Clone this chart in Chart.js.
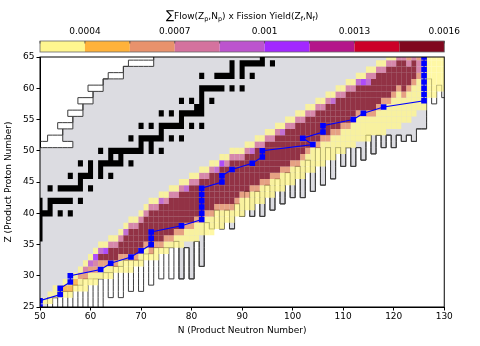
<!DOCTYPE html>
<html>
<head>
<meta charset="utf-8">
<script src="https://cdn.jsdelivr.net/npm/chart.js@4.4.0/dist/chart.umd.min.js"></script>
<style>
  html, body { margin: 0; padding: 0; background: #fff; }
</style>
</head>
<body>
<canvas id="nucChart" width="480" height="346"></canvas>
<script>
// axis ranges
const nMin = 50, nMax = 130, zMin = 25, zMax = 65

// colour bar
const cbBounds = [0.00025, 0.0004, 0.00055, 0.0007, 0.00085, 0.001, 0.00115, 0.0013, 0.00145, 0.0016]
const cbTicks = [0.0004, 0.0007, 0.001, 0.0013, 0.0016]
const cbColors = ['#fff68f', '#ffb23a', '#e8926c', '#d4729e', '#bc54ce', '#a228ff', '#b4168a', '#cc0028', '#80081e']

// r-process path (N, Z)
const pathN = [50, 50, 54, 54, 56, 56, 62, 64, 68, 70, 72, 72, 72, 78, 82, 82, 82, 82, 82, 82, 86, 86, 88, 92, 94, 94, 104, 102, 106, 106, 112, 114, 118, 126, 126, 126, 126, 126, 126, 126, 126, 126]
const pathZ = [25, 26, 27, 28, 29, 30, 31, 32, 33, 34, 35, 36, 37, 38, 39, 40, 41, 42, 43, 44, 45, 46, 47, 48, 49, 50, 51, 52, 53, 54, 55, 56, 57, 58, 59, 60, 61, 62, 63, 64, 65, 66]

// stable nuclei [N, Z]
const stableNuclei = [
  [50, 36], [50, 37], [50, 38], [50, 39], [50, 40], [51, 40], [52, 40], [54, 40], [56, 40],
  [50, 41], [52, 41],
  [50, 42], [52, 42], [53, 42], [54, 42], [55, 42], [56, 42], [58, 42],
  [52, 44], [54, 44], [55, 44], [56, 44], [57, 44], [58, 44], [60, 44],
  [58, 45],
  [56, 46], [58, 46], [59, 46], [60, 46], [62, 46], [64, 46],
  [60, 47], [62, 47],
  [58, 48], [60, 48], [62, 48], [63, 48], [64, 48], [65, 48], [66, 48], [68, 48],
  [64, 49], [66, 49],
  [62, 50], [64, 50], [65, 50], [66, 50], [67, 50], [68, 50], [69, 50], [70, 50], [72, 50], [74, 50],
  [70, 51], [72, 51],
  [68, 52], [70, 52], [71, 52], [72, 52], [73, 52], [74, 52], [76, 52], [78, 52],
  [74, 53],
  [70, 54], [72, 54], [74, 54], [75, 54], [76, 54], [77, 54], [78, 54], [80, 54], [82, 54],
  [78, 55],
  [74, 56], [76, 56], [78, 56], [79, 56], [80, 56], [81, 56], [82, 56],
  [81, 57], [82, 57],
  [78, 58], [80, 58], [82, 58], [84, 58],
  [82, 59],
  [82, 60], [83, 60], [84, 60], [85, 60], [86, 60], [88, 60], [90, 60],
  [82, 62], [85, 62], [86, 62], [87, 62], [88, 62], [90, 62], [92, 62],
  [88, 63], [90, 63],
  [88, 64], [90, 64], [91, 64], [92, 64], [93, 64], [94, 64], [96, 64],
  [94, 65]
]

// known-nuclide region: rows Z = 25..65 give N limits, columns N = 50..130 give lowest Z
const grayRowLo = [40, 40, 40, 40, 40, 40, 40, 40, 40, 40, 40, 40, 40, 40, 40, 40, 40, 40, 40, 40, 40, 40, 40, 40, 40, 40,
  57, 55, 55, 57, 57, 59, 59, 61, 61, 63, 63, 67, 67, 73, 73]
const grayRowHi = [124, 124, 124, 124, 124, 124, 124, 124, 124, 124, 124, 124, 124, 124, 124, 124, 124, 124, 124, 124, 124, 124, 124, 124, 124, 124,
  124, 124, 124, 126, 126, 126, 126, 126, 126, 126, 126, 126, 126, 126, 126]
const grayColLo = [
  25, 25, 27, 27, 28, 28, 28, 29, 29, 30,
  30, 30, 30, 31, 31, 32, 32, 33, 33, 33,
  33, 34, 34, 35, 35, 35, 35, 36, 30, 35,
  30, 36, 32, 39, 38, 41, 38, 41, 38, 42,
  40, 44, 40, 44, 40, 45, 41, 46, 42, 47,
  43, 48, 43, 49, 44, 51, 45, 51, 46, 51,
  48, 51, 48, 51, 49, 53, 50, 53, 51, 53,
  51, 53, 52, 53, 52, 54, 53, 99, 99, 99,
  99]
// outlined region (left white where it goes beyond the grey)
const outRowLo = [40, 40, 40, 40, 40, 40, 40, 40, 40, 40, 40, 40, 40, 40, 40, 40, 40, 40, 40, 40, 40, 40, 40, 40, 40, 40,
  40, 52, 55, 54, 57, 56, 59, 58, 61, 60, 63, 64, 67, 68, 73]
const outRowHi = [124, 124, 124, 124, 124, 124, 124, 124, 124, 124, 124, 124, 124, 124, 124, 124, 124, 124, 124, 124, 124, 124, 124, 124, 124, 124,
  124, 124, 124, 130, 130, 130, 130, 130, 130, 130, 130, 130, 130, 130, 130]
const outColLo = [
  25, 25, 25, 27, 25, 28, 25, 29, 25, 30,
  25, 30, 25, 31, 27, 32, 27, 33, 28, 33,
  28, 34, 29, 35, 30, 35, 30, 36, 30, 35,
  30, 36, 32, 39, 38, 41, 38, 41, 38, 42,
  40, 44, 40, 44, 40, 45, 41, 46, 42, 47,
  43, 48, 43, 49, 44, 51, 45, 51, 46, 51,
  48, 51, 48, 51, 49, 53, 50, 53, 51, 53,
  51, 53, 52, 53, 52, 54, 53, 62, 58, 61,
  59]

// flow x fission yield, per column: [N, lowest Z, colour level per Z upward]
const heatCols = [
  [51, 26, '1'], [52, 26, '11'], [53, 27, '11'], [54, 27, '11'], [55, 27, '121'],
  [56, 27, '121'], [57, 28, '121'], [58, 28, '1131'], [59, 28, '11341'], [60, 29, '11351'],
  [61, 29, '113461'], [62, 30, '113951'], [63, 30, '113961'], [64, 30, '1139941'], [65, 31, '139941'],
  [66, 31, '1139941'], [67, 31, '11399951'], [68, 31, '113999941'], [69, 32, '13999941'], [70, 32, '113999941'],
  [71, 33, '113999941'], [72, 33, '1399999941'], [73, 33, '1139999941'], [74, 34, '1399999951'], [75, 34, '1139999941'],
  [76, 35, '1399999941'], [77, 35, '1139999941'], [78, 35, '11399999941'], [79, 36, '1139999951'], [80, 36, '11399999941'],
  [81, 36, '11139999941'], [82, 37, '11399999941'], [83, 37, '11139999941'], [84, 37, '111399999941'], [85, 38, '11139999951'],
  [86, 38, '111399999961'], [87, 39, '11399999941'], [88, 39, '113999999941'], [89, 40, '11399999941'], [90, 40, '11139999941'],
  [91, 41, '11399999941'], [92, 41, '11139999951'], [93, 42, '11399999941'], [94, 42, '11139999941'], [95, 43, '11399999941'],
  [96, 43, '11139999941'], [97, 44, '11399999941'], [98, 44, '11139999951'], [99, 45, '11399999941'], [100, 45, '11139999941'],
  [101, 46, '11399999941'], [102, 46, '11139999941'], [103, 47, '11139999941'], [104, 47, '11113999941'], [105, 48, '11139999941'],
  [106, 48, '11113999941'], [107, 49, '11139999941'], [108, 49, '11113999951'], [109, 50, '11139999941'], [110, 50, '11113999941'],
  [111, 51, '11139999941'], [112, 51, '11113999941'], [113, 52, '11113999951'], [114, 52, '11113999961'], [115, 52, '111139999541'],
  [116, 53, '11139999941'], [117, 53, '111139999941'], [118, 53, '111113999941'], [119, 54, '111139999941'], [120, 54, '111113999941'],
  [121, 54, '111111399994'], [122, 55, '11113999994'], [123, 55, '11111399943'], [124, 56, '1111139994'], [125, 57, '111113443'],
  [126, 57, '111111123'], [127, 59, '1111111'], [128, 59, '1111111'], [129, 60, '111111'], [130, 60, '111111']
]

const font = { family: 'DejaVu Sans', size: 9 }

function rowIdx(z) { return Math.min(Math.max(z, zMin), zMax) - zMin }
function colIdx(n) { return Math.min(Math.max(n, nMin), nMax) - nMin }
function inGray(n, z) {
  const r = rowIdx(z)
  return n >= grayRowLo[r] && n <= grayRowHi[r] && z >= grayColLo[colIdx(n)]
}
function inOutline(n, z) {
  const r = rowIdx(z)
  return n >= outRowLo[r] && n <= outRowHi[r] && z >= outColLo[colIdx(n)]
}

const nuclidePlugin = {
  id: 'nuclides',
  beforeDatasetsDraw(chart) {
    const { ctx, chartArea: a } = chart
    const x = chart.scales.x, y = chart.scales.y
    const px = v => x.getPixelForValue(v)
    const py = v => y.getPixelForValue(v)
    const cellRect = (n, z) => {
      const l = px(n - 0.5), r = px(n + 0.5), t = py(z + 0.5), b = py(z - 0.5)
      ctx.rect(l, t, r - l, b - t)
    }
    ctx.save()
    ctx.beginPath()
    ctx.rect(a.left, a.top, a.right - a.left, a.bottom - a.top)
    ctx.clip()

    // grey area
    ctx.beginPath()
    for (let n = nMin - 1; n <= nMax + 1; n++) {
      for (let z = zMin - 1; z <= zMax + 1; z++) {
        if (inGray(n, z)) cellRect(n, z)
      }
    }
    ctx.fillStyle = '#dcdce1'
    ctx.fill()

    // outlines of both regions
    ctx.beginPath()
    const edges = test => {
      for (let n = nMin - 2; n <= nMax + 2; n++) {
        for (let z = zMin - 2; z <= zMax + 2; z++) {
          if (!test(n, z)) continue
          if (!test(n - 1, z)) { ctx.moveTo(px(n - 0.5), py(z - 0.5)); ctx.lineTo(px(n - 0.5), py(z + 0.5)) }
          if (!test(n + 1, z)) { ctx.moveTo(px(n + 0.5), py(z - 0.5)); ctx.lineTo(px(n + 0.5), py(z + 0.5)) }
          if (!test(n, z - 1)) { ctx.moveTo(px(n - 0.5), py(z - 0.5)); ctx.lineTo(px(n + 0.5), py(z - 0.5)) }
          if (!test(n, z + 1)) { ctx.moveTo(px(n - 0.5), py(z + 0.5)); ctx.lineTo(px(n + 0.5), py(z + 0.5)) }
        }
      }
    }
    edges(inGray)
    edges(inOutline)
    ctx.strokeStyle = '#3c3c3c'
    ctx.lineWidth = 1
    ctx.stroke()

    // stable nuclei
    ctx.beginPath()
    stableNuclei.forEach(([n, z]) => cellRect(n, z))
    ctx.fillStyle = '#000'
    ctx.fill()

    // flow x fission yield cells
    ctx.globalAlpha = 0.8
    heatCols.forEach(([n, z0, lv]) => {
      for (let i = 0; i < lv.length; i++) {
        const k = +lv[i]
        if (!k) continue
        ctx.beginPath()
        cellRect(n, z0 + i)
        ctx.fillStyle = cbColors[k - 1]
        ctx.fill()
      }
    })
    ctx.restore()
  },
  afterDraw(chart) {
    const { ctx, chartArea: a } = chart
    const cb = chart.scales.cb
    // frame
    ctx.save()
    ctx.strokeStyle = '#000'
    ctx.lineWidth = 1
    ctx.strokeRect(a.left, a.top, a.right - a.left, a.bottom - a.top)

    // colour bar
    const top = 41, bot = 52
    for (let i = 0; i < cbColors.length; i++) {
      const l = cb.getPixelForValue(cbBounds[i]), r = cb.getPixelForValue(cbBounds[i + 1])
      ctx.fillStyle = cbColors[i]
      ctx.fillRect(l, top, r - l, bot - top)
    }
    ctx.strokeStyle = '#666'
    ctx.lineWidth = 0.8
    ctx.strokeRect(cb.getPixelForValue(cbBounds[0]), top, cb.getPixelForValue(cbBounds[9]) - cb.getPixelForValue(cbBounds[0]), bot - top)
    ctx.beginPath()
    cbBounds.forEach(v => { const p = cb.getPixelForValue(v); ctx.moveTo(p, top); ctx.lineTo(p, top + 2.5) })
    ctx.strokeStyle = '#444'
    ctx.stroke()

    // colour bar title with subscripts
    const parts = [['\u2211', 12, 0], ['Flow(Z', 9, 0], ['p', 6.5, 2], [',N', 9, 0], ['p', 6.5, 2],
      [') x Fission Yield(Z', 9, 0], ['f', 6.5, 2], [',N', 9, 0], ['f', 6.5, 2], [')', 9, 0]]
    let w = 0
    parts.forEach(p => { ctx.font = p[1] + 'px "DejaVu Sans"'; w += ctx.measureText(p[0]).width })
    let cx = (cb.left + cb.right) / 2 - w / 2
    ctx.fillStyle = '#000'
    ctx.textBaseline = 'alphabetic'
    parts.forEach(p => {
      ctx.font = p[1] + 'px "DejaVu Sans"'
      ctx.fillText(p[0], cx, 19 + p[2])
      cx += ctx.measureText(p[0]).width
    })
    ctx.restore()
  }
}

new Chart(document.getElementById('nucChart'), {
  type: 'scatter',
  data: {
    datasets: [{
      data: pathN.map((n, i) => ({ x: n, y: pathZ[i] })),
      showLine: true,
      borderColor: '#0000ff',
      backgroundColor: '#0000ff',
      borderWidth: 1.2,
      pointStyle: 'rect',
      pointRadius: 4,
      pointBorderWidth: 0,
      clip: 0
    }]
  },
  options: {
    responsive: false,
    animation: false,
    devicePixelRatio: 1,
    layout: { padding: { right: 24 } },
    plugins: { legend: { display: false }, tooltip: { enabled: false } },
    scales: {
      x: {
        type: 'linear', position: 'bottom', min: nMin, max: nMax,
        ticks: { stepSize: 10, color: '#000', font, padding: 1, maxRotation: 0 },
        grid: { drawOnChartArea: false, tickLength: 3.5, color: '#000' },
        border: { color: '#000' },
        title: { display: true, text: 'N (Product Neutron Number)', color: '#000', font, padding: { top: 0, bottom: 9.6 } },
        afterFit: s => { s.height = 39 }
      },
      y: {
        type: 'linear', position: 'left', min: zMin, max: zMax,
        ticks: { stepSize: 5, color: '#000', font, padding: 2 },
        grid: { drawOnChartArea: false, tickLength: 3.5, color: '#000' },
        border: { color: '#000' },
        title: { display: true, text: 'Z (Product Proton Number)', color: '#000', font, padding: { top: 3, bottom: 0 } },
        afterFit: s => { s.width = 40 }
      },
      cb: {
        type: 'linear', position: 'top', min: cbBounds[0], max: cbBounds[9],
        afterBuildTicks: s => { s.ticks = cbTicks.map(v => ({ value: v })) },
        ticks: { color: '#000', font, padding: 20, autoSkip: false, maxRotation: 0, callback: v => String(v) },
        grid: { display: false, drawTicks: false },
        border: { display: false },
        afterFit: s => { s.height = 57 }
      }
    }
  },
  plugins: [nuclidePlugin]
})
</script>
</body>
</html>
